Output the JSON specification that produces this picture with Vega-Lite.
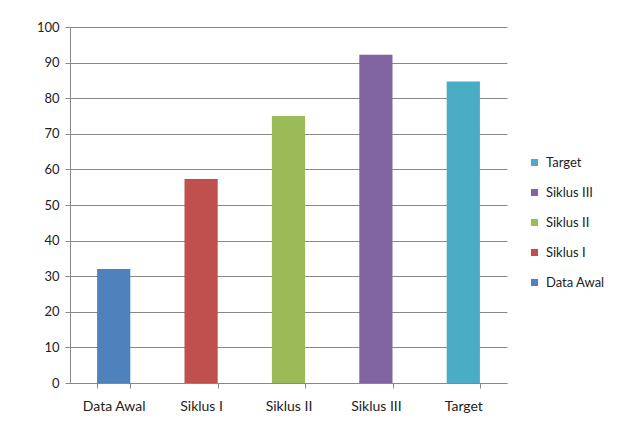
{
  "$schema": "https://vega.github.io/schema/vega-lite/v6.json",
  "width": 437,
  "height": 356,
  "autosize": {"type": "none"},
  "padding": {"left": 70, "top": 27, "right": 112, "bottom": 52},
  "background": "white",
  "data": {"values": [
    {"kategori": "Data Awal", "nilai": 32},
    {"kategori": "Siklus I", "nilai": 57.3},
    {"kategori": "Siklus II", "nilai": 75},
    {"kategori": "Siklus III", "nilai": 92.2},
    {"kategori": "Target", "nilai": 84.7}
  ]},
  "mark": {"type": "bar"},
  "encoding": {
    "x": {
      "field": "kategori", "type": "nominal",
      "sort": ["Data Awal", "Siklus I", "Siklus II", "Siklus III", "Target"],
      "scale": {"paddingInner": 0.62, "paddingOuter": 0.31},
      "axis": {"title": null, "labelAngle": 0, "labelFont": "Lato", "labelFontSize": 14, "labelColor": "#222",
               "labelPadding": 11, "domainColor": "#888", "tickColor": "#888", "tickBand": "extent", "tickSize": 5, "grid": false}
    },
    "y": {
      "field": "nilai", "type": "quantitative",
      "scale": {"domain": [0, 100], "nice": false},
      "axis": {"title": null, "values": [0,10,20,30,40,50,60,70,80,90,100], "labelFont": "Lato", "labelFontSize": 13, "labelColor": "#222",
               "labelPadding": 6, "domainColor": "#888", "tickColor": "#888", "tickSize": 5, "gridColor": "#888", "gridOpacity": 1, "gridWidth": 1}
    },
    "color": {
      "field": "kategori", "type": "nominal",
      "scale": {"domain": ["Target", "Siklus III", "Siklus II", "Siklus I", "Data Awal"],
                "range": ["#4BACC6", "#8064A2", "#9BBB59", "#C0504D", "#4F81BD"]},
      "legend": {"title": null, "orient": "none", "legendX": 458, "legendY": 129, "symbolType": "square", "symbolSize": 50,
                 "symbolStrokeWidth": 0, "labelFont": "Lato", "labelFontSize": 13, "labelColor": "#222", "rowPadding": 16, "labelOffset": 5}
    }
  },
  "config": {"view": {"stroke": null}}
}
